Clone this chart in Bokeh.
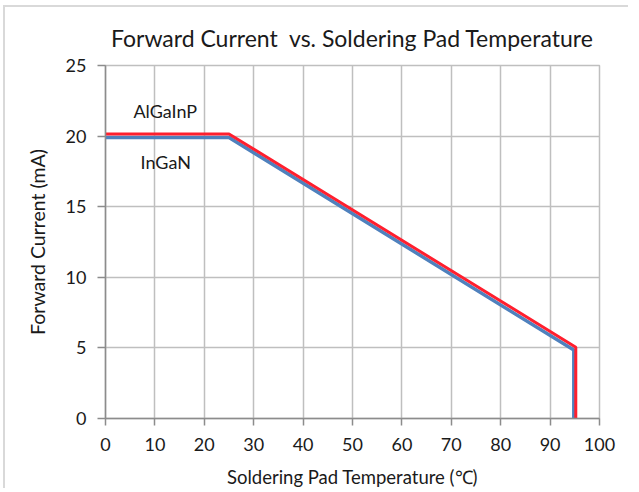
from bokeh.plotting import figure
from bokeh.models import FixedTicker, Range1d, Label
from bokeh.embed import file_html
from bokeh.resources import INLINE

# data
x_red = [0, 25, 95.2, 95.2]
y_red = [20.15, 20.15, 5.05, 0]
x_blue = [0, 25, 94.8, 94.8]
y_blue = [19.9, 19.9, 4.85, 0]
x_ticks = [0, 10, 20, 30, 40, 50, 60, 70, 80, 90, 100]
y_ticks = [0, 5, 10, 15, 20, 25]
labels = ["AlGaInP", "InGaN"]
label_x = [12.1, 12.2]
label_y = [21.8, 18.2]

FONT = "Lato"

p = figure(width=625, height=483, output_backend="svg", toolbar_location=None,
           x_range=Range1d(0, 100), y_range=Range1d(0, 25),
           min_border_left=100, min_border_right=31, min_border_top=57, min_border_bottom=70)
p.styles = {"border-top": "2px solid #d9d9d9", "border-left": "2px solid #d9d9d9",
            "margin-left": "3px", "margin-top": "5px"}

p.title.text = "Forward Current\u00a0 vs. Soldering Pad Temperature"
p.title.align = "center"
p.title.text_font = FONT
p.title.text_font_size = "23px"
p.title.text_font_style = "normal"
p.title.text_color = "#1a1a1a"
p.title.standoff = 28

for ax in (p.xaxis[0], p.yaxis[0]):
    ax.axis_line_color = "#8c8c8c"
    ax.axis_line_width = 1.5
    ax.major_tick_line_color = "#8c8c8c"
    ax.major_tick_line_width = 1.5
    ax.major_tick_in = 0
    ax.minor_tick_line_color = None
    ax.major_label_text_font = FONT
    ax.major_label_text_font_size = "18px"
    ax.major_label_text_color = "#1a1a1a"
    ax.axis_label_text_font = FONT
    ax.axis_label_text_font_style = "normal"
    ax.axis_label_text_color = "#1a1a1a"

p.xaxis.axis_label_text_font_size = "18.5px"
p.yaxis.axis_label_text_font_size = "19.5px"
p.xaxis.ticker = FixedTicker(ticks=x_ticks)
p.yaxis.ticker = FixedTicker(ticks=y_ticks)
p.xaxis.major_tick_out = 7
p.yaxis.major_tick_out = 8
p.xaxis.major_label_standoff = 12
p.yaxis.major_label_standoff = 11
p.xaxis.axis_label = "Soldering Pad Temperature (℃)"
p.yaxis.axis_label = "Forward Current (mA)"
p.xaxis.axis_label_standoff = 12
p.yaxis.axis_label_standoff = 14

p.xgrid.ticker = FixedTicker(ticks=x_ticks)
p.ygrid.ticker = FixedTicker(ticks=y_ticks)
p.grid.grid_line_color = "#bfbfbf"
p.grid.grid_line_width = 1.5
p.outline_line_color = "#bfbfbf"
p.outline_line_width = 1.5
p.background_fill_color = "white"
p.border_fill_color = "white"

p.line(x_blue, y_blue, line_color="#4f81bd", line_width=3.5)
p.line(x_red, y_red, line_color="#ff1f2e", line_width=3)

for t, lx, ly in zip(labels, label_x, label_y):
    p.add_layout(Label(x=lx, y=ly, text=t, text_align="center", text_baseline="middle",
                       text_font=FONT, text_font_size="18px", text_color="#1a1a1a"))

open("out.html", "w").write(file_html(p, INLINE))
